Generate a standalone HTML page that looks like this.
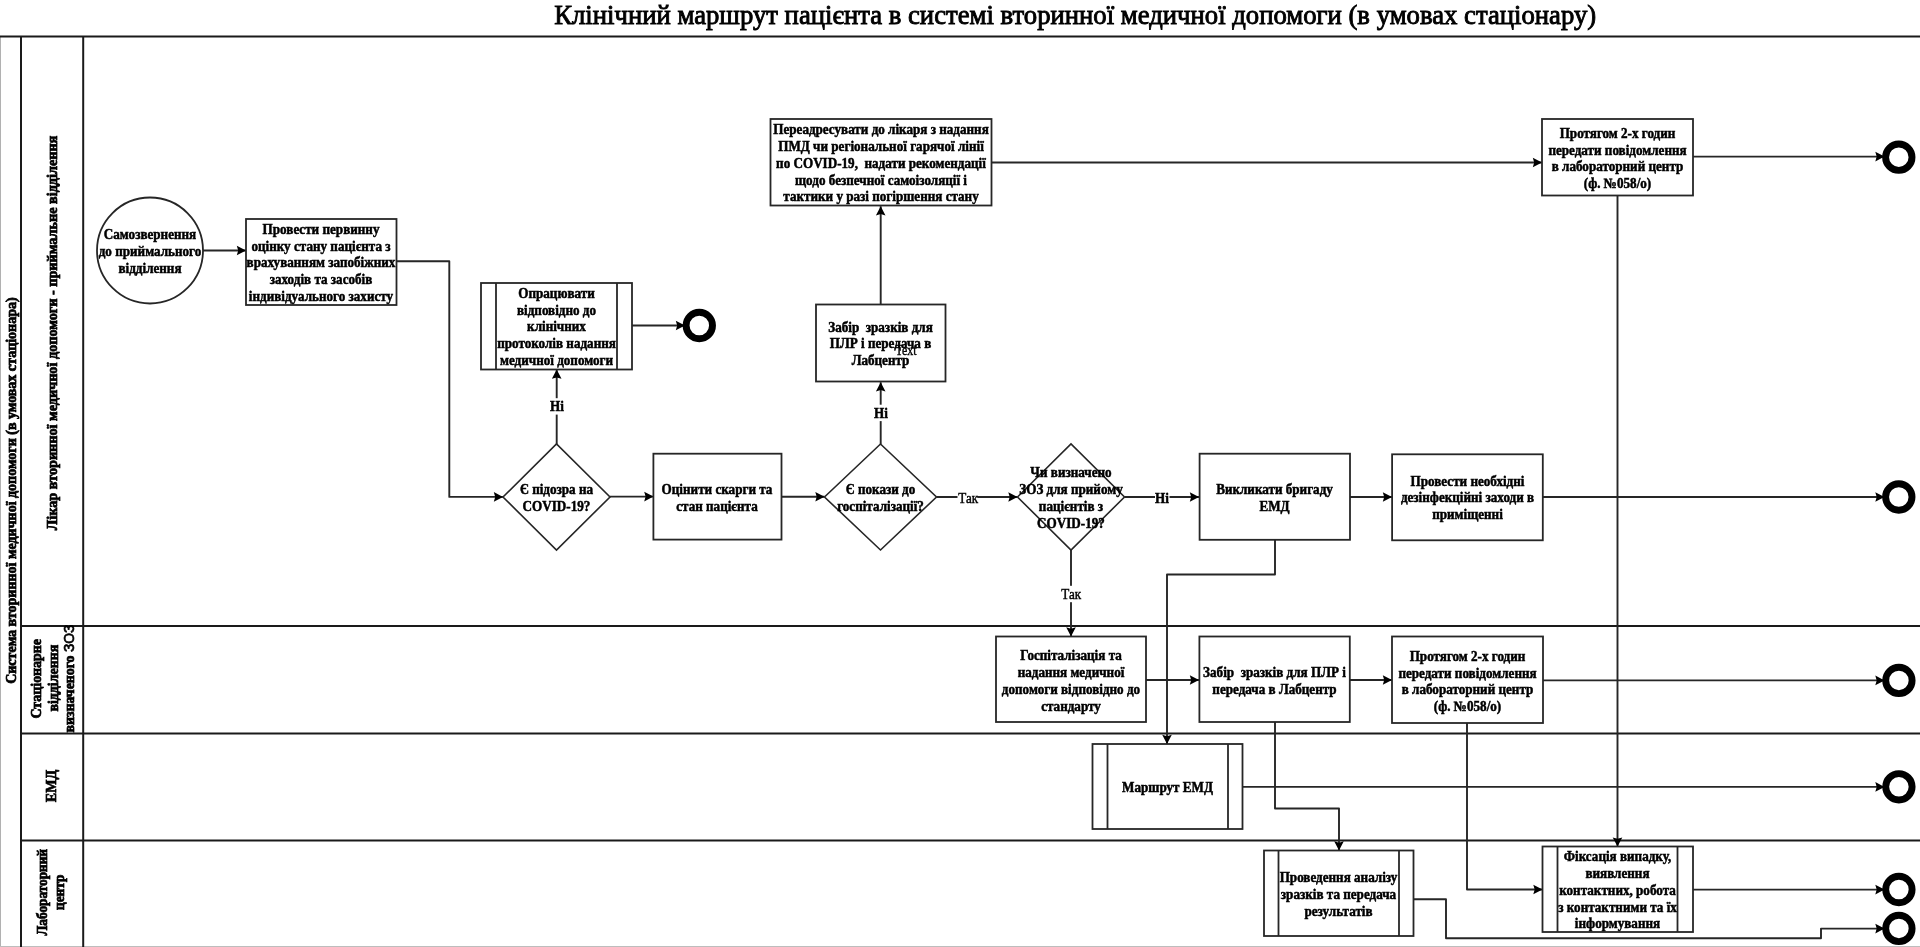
<!DOCTYPE html>
<html lang="uk">
<head>
<meta charset="utf-8">
<title>Клінічний маршрут пацієнта</title>
<style>
html,body{margin:0;padding:0;background:#fff;}
body{width:1920px;height:947px;overflow:hidden;font-family:"Liberation Serif",serif;}
svg{display:block;position:absolute;left:0;top:0;filter:grayscale(1) blur(0.58px);}
.sh{fill:#fff;stroke:#262626;stroke-width:1.8;}
.ln{fill:none;stroke:#262626;stroke-width:1.9;stroke-linejoin:round;}
.ah{fill:#000;stroke:none;}
.lane{stroke:#1a1a1a;stroke-width:2;}
text{font-family:"Liberation Serif",serif;fill:#111;}
.t{font-weight:bold;font-size:14.2px;text-anchor:middle;dominant-baseline:central;fill:#000;stroke:#000;stroke-width:0.5px;}
.t.r{font-weight:normal;stroke-width:0.4px;font-size:13.7px;}
.v{font-weight:bold;text-anchor:middle;dominant-baseline:central;fill:#000;stroke:#000;stroke-width:0.75px;}
.zoz{font-family:"Liberation Sans",sans-serif;font-weight:normal;stroke-width:0.7px;}
.title{font-size:27.4px;text-anchor:middle;fill:#111;stroke:#000;stroke-width:0.9px;fill:#000;}
</style>
</head>
<body>
<svg width="1920" height="947" viewBox="0 0 1920 947">
<g class="frame">
<rect x="0" y="0" width="1920" height="947" fill="#fff"/>
<rect x="0" y="37" width="0.9" height="910" fill="#a9a9a9"/>
<rect x="0" y="946" width="1920" height="1" fill="#bdbdbd"/>
<line x1="0" y1="36.6" x2="1920" y2="36.6" class="lane"/>
<line x1="21" y1="36" x2="21" y2="947" class="lane"/>
<line x1="83.2" y1="36" x2="83.2" y2="947" class="lane"/>
<line x1="21" y1="626" x2="1920" y2="626" class="lane"/>
<line x1="21" y1="733.4" x2="1920" y2="733.4" class="lane"/>
<line x1="21" y1="840.5" x2="1920" y2="840.5" class="lane"/>
</g>
<text x="1075.2" y="24.4" class="title" textLength="1042" lengthAdjust="spacingAndGlyphs">Клінічний маршрут пацієнта в системі вторинної медичної допомоги (в умовах стаціонару)</text>
<text transform="translate(10.60,490.6) rotate(-90) scale(0.967,1)" class="v" style="font-size:14.5px">Система вторинної медичної допомоги (в умовах стаціонара)</text>
<text transform="translate(51.80,333) rotate(-90) scale(0.98,1)" class="v" style="font-size:14.5px">Лікар вторинної медичної допомоги - приймальне відділення</text>
<text transform="translate(35.40,678.8) rotate(-90) scale(0.96,1)" class="v" style="font-size:14.5px">Стаціонарне</text>
<text transform="translate(52.80,678.2) rotate(-90) scale(0.96,1)" class="v" style="font-size:14.5px">відділення</text>
<text transform="translate(69.00,678.6) rotate(-90) scale(0.955,1)" class="v" style="font-size:14.5px">визначеного <tspan class="zoz">ЗОЗ</tspan></text>
<text transform="translate(50.50,786) rotate(-90) scale(0.97,1)" class="v" style="font-size:14.5px">ЕМД</text>
<text transform="translate(42.00,892.3) rotate(-90) scale(0.915,1)" class="v" style="font-size:14.5px">Лабораторний</text><text transform="translate(59.80,892.3) rotate(-90) scale(0.915,1)" class="v" style="font-size:14.5px">центр</text>
<path d="M203,250.5 L246,250.5" class="ln"/><polygon points="246.0,250.5 236.8,255.3 238.2,250.5 236.8,245.7" class="ah"/>
<path d="M396.4,261.2 L449.3,261.2 L449.3,496.9 L503,496.9" class="ln"/><polygon points="503.0,496.9 493.8,501.7 495.2,496.9 493.8,492.1" class="ah"/>
<path d="M556.7,444 L556.7,369.6" class="ln"/><polygon points="556.7,369.6 561.5,378.8 556.7,377.4 551.9,378.8" class="ah"/>
<path d="M632,325.5 L685,325.5" class="ln"/><polygon points="685.0,325.5 675.8,330.3 677.2,325.5 675.8,320.7" class="ah"/>
<path d="M610,496.6 L653.4,496.6" class="ln"/><polygon points="653.4,496.6 644.2,501.4 645.6,496.6 644.2,491.8" class="ah"/>
<path d="M781.5,496.8 L824.5,496.8" class="ln"/><polygon points="824.5,496.8 815.3,501.6 816.7,496.8 815.3,492.0" class="ah"/>
<path d="M880.7,444 L880.7,382.2" class="ln"/><polygon points="880.7,382.2 885.5,391.4 880.7,390.0 875.9,391.4" class="ah"/>
<path d="M880.7,304.5 L880.7,206.2" class="ln"/><polygon points="880.7,206.2 885.5,215.4 880.7,214.0 875.9,215.4" class="ah"/>
<path d="M991.5,162.5 L1542,162.5" class="ln"/><polygon points="1542.0,162.5 1532.8,167.3 1534.2,162.5 1532.8,157.7" class="ah"/>
<path d="M936.5,497 L1017.5,497" class="ln"/><polygon points="1017.5,497.0 1008.3,501.8 1009.7,497.0 1008.3,492.2" class="ah"/>
<path d="M1124.5,497 L1199,497" class="ln"/><polygon points="1199.0,497.0 1189.8,501.8 1191.2,497.0 1189.8,492.2" class="ah"/>
<path d="M1350,497 L1392,497" class="ln"/><polygon points="1392.0,497.0 1382.8,501.8 1384.2,497.0 1382.8,492.2" class="ah"/>
<path d="M1543,497 L1884.5,497" class="ln"/><polygon points="1884.5,497.0 1875.3,501.8 1876.7,497.0 1875.3,492.2" class="ah"/>
<path d="M1693,156.6 L1884.5,156.6" class="ln"/><polygon points="1884.5,156.6 1875.3,161.4 1876.7,156.6 1875.3,151.8" class="ah"/>
<path d="M1617.5,195.5 L1617.5,846.6" class="ln"/><polygon points="1617.5,846.6 1612.7,837.4 1617.5,838.8 1622.3,837.4" class="ah"/>
<path d="M1071,550 L1071,636.5" class="ln"/><polygon points="1071.0,636.5 1066.2,627.3 1071.0,628.7 1075.8,627.3" class="ah"/>
<path d="M1275,539.5 L1275,574.5 L1167,574.5 L1167,744" class="ln"/><polygon points="1167.0,744.0 1162.2,734.8 1167.0,736.2 1171.8,734.8" class="ah"/>
<path d="M1146,680 L1199,680" class="ln"/><polygon points="1199.0,680.0 1189.8,684.8 1191.2,680.0 1189.8,675.2" class="ah"/>
<path d="M1350,680 L1392,680" class="ln"/><polygon points="1392.0,680.0 1382.8,684.8 1384.2,680.0 1382.8,675.2" class="ah"/>
<path d="M1543,680.4 L1884.5,680.4" class="ln"/><polygon points="1884.5,680.4 1875.3,685.2 1876.7,680.4 1875.3,675.6" class="ah"/>
<path d="M1275,722 L1275,808.5 L1339,808.5 L1339,850.5" class="ln"/><polygon points="1339.0,850.5 1334.2,841.3 1339.0,842.7 1343.8,841.3" class="ah"/>
<path d="M1242.5,786.9 L1884.5,786.9" class="ln"/><polygon points="1884.5,786.9 1875.3,791.7 1876.7,786.9 1875.3,782.1" class="ah"/>
<path d="M1467,723 L1467,889.5 L1542.5,889.5" class="ln"/><polygon points="1542.5,889.5 1533.3,894.3 1534.7,889.5 1533.3,884.7" class="ah"/>
<path d="M1693,889.6 L1884.5,889.6" class="ln"/><polygon points="1884.5,889.6 1875.3,894.4 1876.7,889.6 1875.3,884.8" class="ah"/>
<path d="M1413.5,899.2 L1446,899.2 L1446,938.3 L1821,938.3 L1821,928.6 L1884.5,928.6" class="ln"/><polygon points="1884.5,928.6 1875.3,933.4 1876.7,928.6 1875.3,923.8" class="ah"/>
<circle cx="150" cy="250.5" r="53" class="sh"/>
<rect x="246" y="219" width="150.5" height="86" class="sh"/>
<rect x="481" y="283" width="151" height="86.5" class="sh"/><line x1="496" y1="283" x2="496" y2="369.5" class="sh"/><line x1="617" y1="283" x2="617" y2="369.5" class="sh"/>
<rect x="770.5" y="119" width="221.0" height="86.5" class="sh"/>
<rect x="816" y="304.5" width="129.5" height="77.0" class="sh"/>
<polygon points="503.0,497 556.5,444 610.0,497 556.5,550" class="sh" style="stroke-width:1.6"/>
<rect x="653.4" y="453.7" width="128.10000000000002" height="85.90000000000003" class="sh"/>
<polygon points="824.5,497 880.5,444 936.5,497 880.5,550" class="sh" style="stroke-width:1.6"/>
<polygon points="1017.5,497 1071,444 1124.5,497 1071,550" class="sh" style="stroke-width:1.6"/>
<rect x="1199.6" y="453.7" width="150.4000000000001" height="86.09999999999997" class="sh"/>
<rect x="1392.1" y="454.3" width="150.70000000000005" height="85.99999999999994" class="sh"/>
<rect x="1542" y="119" width="151" height="76.5" class="sh"/>
<rect x="996" y="636.5" width="150" height="85.5" class="sh"/>
<rect x="1199.4" y="636.5" width="150.39999999999986" height="85.5" class="sh"/>
<rect x="1392" y="636.5" width="151" height="86.5" class="sh"/>
<rect x="1092.5" y="744" width="150.0" height="85" class="sh"/><line x1="1107.5" y1="744" x2="1107.5" y2="829" class="sh"/><line x1="1228" y1="744" x2="1228" y2="829" class="sh"/>
<rect x="1264" y="850.5" width="149.5" height="85.5" class="sh"/><line x1="1278.5" y1="850.5" x2="1278.5" y2="936" class="sh"/><line x1="1399" y1="850.5" x2="1399" y2="936" class="sh"/>
<rect x="1542.5" y="846.5" width="150.5" height="85.5" class="sh"/><line x1="1557.5" y1="846.5" x2="1557.5" y2="932" class="sh"/><line x1="1677.5" y1="846.5" x2="1677.5" y2="932" class="sh"/>
<circle cx="699.3" cy="325.5" r="13.2" fill="#fff" stroke="#000" stroke-width="6.9"/>
<circle cx="1898.8" cy="157.2" r="13.2" fill="#fff" stroke="#000" stroke-width="6.9"/>
<circle cx="1898.8" cy="497" r="13.2" fill="#fff" stroke="#000" stroke-width="6.9"/>
<circle cx="1898.9" cy="680.4" r="13.2" fill="#fff" stroke="#000" stroke-width="6.9"/>
<circle cx="1898.9" cy="786.8" r="13.2" fill="#fff" stroke="#000" stroke-width="6.9"/>
<circle cx="1898.9" cy="889.5" r="13.2" fill="#fff" stroke="#000" stroke-width="6.9"/>
<circle cx="1898.9" cy="928.4" r="13.2" fill="#fff" stroke="#000" stroke-width="6.9"/>
<rect x="546.9" y="398.2" width="20" height="16.4" fill="#fff"/><text transform="translate(556.9,406.40) scale(0.925,1)" class="t">Ні</text>
<rect x="871.0" y="404.7" width="20" height="16.4" fill="#fff"/><text transform="translate(881.0,412.90) scale(0.925,1)" class="t">Ні</text>
<rect x="957.5" y="492.1" width="19.700000000000045" height="13" fill="#fff"/><text transform="translate(968.2,498.60) scale(0.96,1)" class="t r">Так</text>
<rect x="1155" y="491.5" width="14.5" height="13" fill="#fff"/><text transform="translate(1162,498.00) scale(0.925,1)" class="t">Ні</text>
<rect x="1061.2" y="585.8" width="20" height="16.4" fill="#fff"/><text transform="translate(1071.2,594.00) scale(0.96,1)" class="t r">Так</text>
<text transform="translate(150,234.55) scale(0.925,1)" class="t">Самозвернення</text><text transform="translate(150,251.30) scale(0.925,1)" class="t">до приймального</text><text transform="translate(150,268.05) scale(0.925,1)" class="t">відділення</text>
<text transform="translate(321,229.30) scale(0.925,1)" class="t">Провести первинну</text><text transform="translate(321,246.05) scale(0.925,1)" class="t">оцінку стану пацієнта з</text><text transform="translate(321,262.80) scale(0.925,1)" class="t">врахуванням запобіжних</text><text transform="translate(321,279.55) scale(0.925,1)" class="t">заходів та засобів</text><text transform="translate(321,296.30) scale(0.925,1)" class="t">індивідуального захисту</text>
<text transform="translate(556.5,293.30) scale(0.925,1)" class="t">Опрацювати</text><text transform="translate(556.5,310.05) scale(0.925,1)" class="t">відповідно до</text><text transform="translate(556.5,326.80) scale(0.925,1)" class="t">клінічних</text><text transform="translate(556.5,343.55) scale(0.925,1)" class="t">протоколів надання</text><text transform="translate(556.5,360.30) scale(0.925,1)" class="t">медичної допомоги</text>
<text transform="translate(881,129.80) scale(0.925,1)" class="t">Переадресувати до лікаря з надання</text><text transform="translate(881,146.55) scale(0.925,1)" class="t">ПМД чи регіональної гарячої лінії</text><text transform="translate(881,163.30) scale(0.925,1)" class="t">по COVID-19,&#160; надати рекомендації</text><text transform="translate(881,180.05) scale(0.925,1)" class="t">щодо безпечної самоізоляції і</text><text transform="translate(881,196.80) scale(0.925,1)" class="t">тактики у разі погіршення стану</text>
<text transform="translate(880.5,327.05) scale(0.925,1)" class="t">Забір&#160; зразків для</text><text transform="translate(880.5,343.80) scale(0.925,1)" class="t">ПЛР і передача в</text><text transform="translate(880.5,360.55) scale(0.925,1)" class="t">Лабцентр</text>
<text transform="translate(906,350.40) scale(0.87,1)" class="t r">Text</text>
<text transform="translate(556.5,489.43) scale(0.925,1)" class="t">Є підозра на</text><text transform="translate(556.5,506.18) scale(0.925,1)" class="t">COVID-19?</text>
<text transform="translate(717,489.43) scale(0.925,1)" class="t">Оцінити скарги та</text><text transform="translate(717,506.18) scale(0.925,1)" class="t">стан пацієнта</text>
<text transform="translate(880.5,489.43) scale(0.925,1)" class="t">Є покази до</text><text transform="translate(880.5,506.18) scale(0.925,1)" class="t">госпіталізації?</text>
<text transform="translate(1071,472.68) scale(0.925,1)" class="t">Чи визначено</text><text transform="translate(1071,489.43) scale(0.925,1)" class="t">ЗОЗ для прийому</text><text transform="translate(1071,506.18) scale(0.925,1)" class="t">пацієнтів з</text><text transform="translate(1071,522.92) scale(0.925,1)" class="t">COVID-19?</text>
<text transform="translate(1274.5,489.43) scale(0.925,1)" class="t">Викликати бригаду</text><text transform="translate(1274.5,506.18) scale(0.925,1)" class="t">ЕМД</text>
<text transform="translate(1467.5,481.05) scale(0.925,1)" class="t">Провести необхідні</text><text transform="translate(1467.5,497.80) scale(0.925,1)" class="t">дезінфекційні заходи в</text><text transform="translate(1467.5,514.55) scale(0.925,1)" class="t">приміщенні</text>
<text transform="translate(1617.5,133.18) scale(0.925,1)" class="t">Протягом 2-х годин</text><text transform="translate(1617.5,149.93) scale(0.925,1)" class="t">передати повідомлення</text><text transform="translate(1617.5,166.68) scale(0.925,1)" class="t">в лабораторний центр</text><text transform="translate(1617.5,183.43) scale(0.925,1)" class="t">(ф. №058/о)</text>
<text transform="translate(1071,655.67) scale(0.925,1)" class="t">Госпіталізація та</text><text transform="translate(1071,672.42) scale(0.925,1)" class="t">надання медичної</text><text transform="translate(1071,689.17) scale(0.925,1)" class="t">допомоги відповідно до</text><text transform="translate(1071,705.92) scale(0.925,1)" class="t">стандарту</text>
<text transform="translate(1274.5,672.42) scale(0.925,1)" class="t">Забір&#160; зразків для ПЛР і</text><text transform="translate(1274.5,689.17) scale(0.925,1)" class="t">передача в Лабцентр</text>
<text transform="translate(1467.5,656.17) scale(0.925,1)" class="t">Протягом 2-х годин</text><text transform="translate(1467.5,672.92) scale(0.925,1)" class="t">передати повідомлення</text><text transform="translate(1467.5,689.67) scale(0.925,1)" class="t">в лабораторний центр</text><text transform="translate(1467.5,706.42) scale(0.925,1)" class="t">(ф. №058/о)</text>
<text transform="translate(1167.5,787.30) scale(0.925,1)" class="t">Маршрут ЕМД</text>
<text transform="translate(1338.5,877.55) scale(0.925,1)" class="t">Проведення аналізу</text><text transform="translate(1338.5,894.30) scale(0.925,1)" class="t">зразків та передача</text><text transform="translate(1338.5,911.05) scale(0.925,1)" class="t">результатів</text>
<text transform="translate(1617.5,856.80) scale(0.925,1)" class="t">Фіксація випадку,</text><text transform="translate(1617.5,873.55) scale(0.925,1)" class="t">виявлення</text><text transform="translate(1617.5,890.30) scale(0.925,1)" class="t">контактних, робота</text><text transform="translate(1617.5,907.05) scale(0.925,1)" class="t">з контактними та їх</text><text transform="translate(1617.5,923.80) scale(0.925,1)" class="t">інформування</text>
</svg>
</body>
</html>
